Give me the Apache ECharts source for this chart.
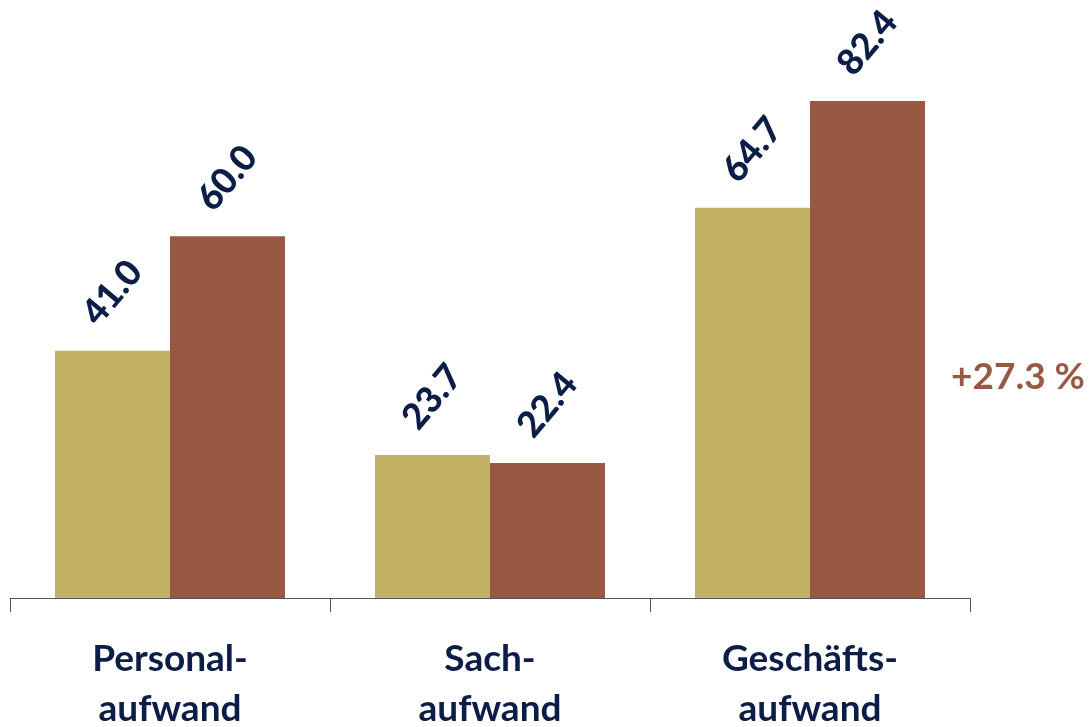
<!DOCTYPE html>
<html>
<head>
<meta charset="utf-8">
<script src="https://cdn.jsdelivr.net/npm/echarts@6/dist/echarts.min.js"></script>
<style>html,body{margin:0;padding:0;background:#fff;}#c{width:1089px;height:727px;}</style>
</head>
<body>
<div id="c"></div>
<script>
var categories = ['Personal-\naufwand', 'Sach-\naufwand', 'Geschäfts-\naufwand'];
var series1 = [41.0, 23.7, 64.7];
var series2 = [60.0, 22.4, 82.4];
var changeLabel = '+27.3 %';

var navy = '#0c1d48';
var gold = '#c3b264';
var brown = '#975943';

var labelStyle = {
  show: true,
  position: 'top',
  distance: 58,
  rotate: 50,
  align: 'center',
  verticalAlign: 'middle',
  color: navy,
  fontFamily: 'Lato',
  fontWeight: 900,
  fontSize: 36,
  formatter: function (p) { return p.value.toFixed(1); }
};

var chart = echarts.init(document.getElementById('c'));
chart.setOption({
  animation: false,
  grid: { left: 10, right: 119, top: 10, bottom: 129, containLabel: false, outerBoundsMode: 'none' },
  xAxis: {
    type: 'category',
    data: categories,
    axisLine: { lineStyle: { color: '#555', width: 1 } },
    axisTick: { show: true, length: 14, lineStyle: { color: '#555' } },
    axisLabel: {
      color: navy, fontFamily: 'Lato', fontWeight: 'bold', fontSize: 37,
      lineHeight: 50, margin: 36, interval: 0
    }
  },
  yAxis: { type: 'value', min: 0, max: 97.5, show: false, splitLine: { show: false } },
  series: [
    { type: 'bar', data: series1, barWidth: 115, barGap: '0%', itemStyle: { color: gold }, label: labelStyle },
    { type: 'bar', data: series2, barWidth: 115, barGap: '0%', itemStyle: { color: brown }, label: labelStyle }
  ],
  graphic: [{
    type: 'text', left: 951, top: 359,
    style: { text: changeLabel, fill: brown, font: 'bold 37px Lato' }
  }]
});
</script>
</body>
</html>
